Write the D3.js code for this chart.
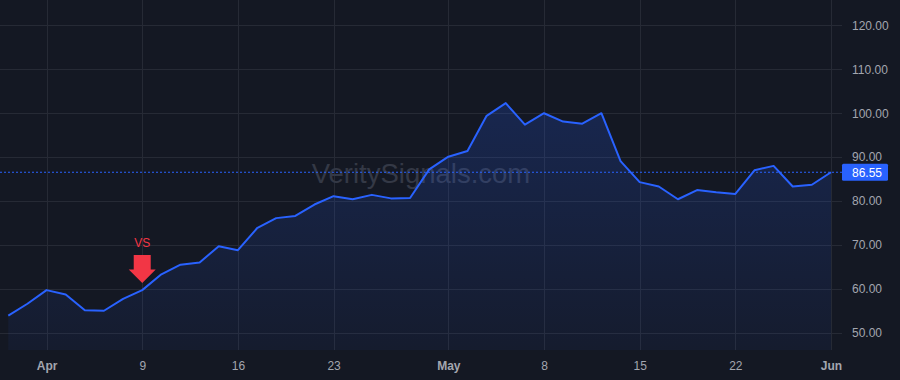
<!DOCTYPE html>
<html><head><meta charset="utf-8">
<script src="https://cdn.jsdelivr.net/npm/d3@7/dist/d3.min.js"></script>
<style>
html,body{margin:0;padding:0;background:#141823;}
svg{display:block;font-family:"Liberation Sans",Arial,sans-serif;}
</style></head>
<body><svg id="c" width="900" height="380"></svg>
<script>
// ---- data ----
const values = [53.9,56.6,59.7,58.7,55.1,55.0,57.7,59.7,63.3,65.5,66.0,69.7,68.8,73.8,76.1,76.6,79.2,81.1,80.4,81.4,80.6,80.7,87.2,90.1,91.4,99.4,102.3,97.4,100.0,98.1,97.6,100.0,89.1,84.3,83.3,80.4,82.5,82.0,81.6,87.0,88.0,83.3,83.7,86.55];
const xTickIndex = [2,7,12,17,23,28,33,38,43];
const xTickLabels = ["Apr","9","16","23","May","8","15","22","Jun"];
const monthLabels = ["Apr","May","Jun"];
const yTicks = [50,60,70,80,90,100,110,120];
const lastPrice = 86.55;
const markerIndex = 7;
const markerText = "VS";
const watermark = "VeritySignals.com";

// ---- layout ----
const W = 900, H = 380, plotR = 842, plotB = 350;
const svg = d3.select("#c");
const x = d3.scaleLinear().domain([0, values.length - 1]).range([8.3, 831]);
const y = d3.scaleLinear().domain([46.06, 125.79]).range([plotB, 0]);

svg.append("rect").attr("width", W).attr("height", H).attr("fill", "#141823");

// grid
const grid = svg.append("g");
grid.selectAll(".hg").data(yTicks).join("line")
  .attr("x1", 0).attr("x2", plotR).attr("y1", d => Math.round(y(d)) + 0.5).attr("y2", d => Math.round(y(d)) + 0.5)
  .attr("stroke", "#262a35").attr("stroke-width", 1);
grid.selectAll(".vg").data(xTickIndex).join("line")
  .attr("x1", d => Math.round(x(d)) + 0.5).attr("x2", d => Math.round(x(d)) + 0.5).attr("y1", 0).attr("y2", plotB)
  .attr("stroke", "#262a35").attr("stroke-width", 1);

// watermark
svg.append("text").attr("x", 421).attr("y", 183).attr("text-anchor", "middle")
  .attr("font-size", 27.5).attr("fill", "#343946").text(watermark);

// area gradient
const defs = svg.append("defs");
const grad = defs.append("linearGradient").attr("id", "ag")
  .attr("gradientUnits", "userSpaceOnUse").attr("x1", 0).attr("x2", 0).attr("y1", y(102.3)).attr("y2", plotB);
grad.append("stop").attr("offset", 0).attr("stop-color", "#2962ff").attr("stop-opacity", 0.2);
grad.append("stop").attr("offset", 1).attr("stop-color", "#2962ff").attr("stop-opacity", 0.05);

const area = d3.area().x((d, i) => x(i)).y0(plotB).y1(d => y(d));
svg.append("path").datum(values).attr("d", area).attr("fill", "url(#ag)");

// last price dotted line
svg.append("line").attr("x1", 0).attr("x2", plotR).attr("y1", y(lastPrice)).attr("y2", y(lastPrice))
  .attr("stroke", "#2962ff").attr("stroke-width", 1).attr("stroke-dasharray", "2,2");

const line = d3.line().x((d, i) => x(i)).y(d => y(d));
svg.append("path").datum(values).attr("d", line).attr("fill", "none")
  .attr("stroke", "#2962ff").attr("stroke-width", 2).attr("stroke-linejoin", "round");

// y axis
const yAxis = svg.append("g").attr("transform", `translate(${plotR},0)`)
  .call(d3.axisRight(y).tickValues(yTicks).tickFormat(d3.format(".2f")).tickSize(0).tickPadding(10));
yAxis.select(".domain").remove();
yAxis.selectAll("text").attr("fill", "#a3a6af").attr("font-size", 12)
  .attr("font-family", "'Liberation Sans',Arial,sans-serif");

// price label
const py = y(lastPrice);
svg.append("rect").attr("x", plotR).attr("y", py - 8.5).attr("width", 46).attr("height", 17).attr("rx", 1.5).attr("fill", "#2962ff");
svg.append("text").attr("x", plotR + 10).attr("y", py + 4.3).attr("font-size", 12).attr("fill", "#ffffff")
  .text(d3.format(".2f")(lastPrice));

// x axis
const xAxis = svg.append("g").attr("transform", `translate(0,${plotB})`)
  .call(d3.axisBottom(x).tickValues(xTickIndex).tickFormat((d, i) => xTickLabels[i]).tickSize(0).tickPadding(11));
xAxis.select(".domain").remove();
xAxis.selectAll("text").attr("fill", "#a3a6af").attr("font-size", 12)
  .attr("font-family", "'Liberation Sans',Arial,sans-serif")
  .attr("font-weight", (d, i) => monthLabels.includes(xTickLabels[i]) ? "bold" : "normal");

// VS marker
const mx = x(markerIndex), my = y(values[markerIndex]);
const tip = my - 7;
const arrow = d3.path();
arrow.moveTo(mx - 8.5, tip - 28); arrow.lineTo(mx + 8.5, tip - 28); arrow.lineTo(mx + 8.5, tip - 13.5);
arrow.lineTo(mx + 13.5, tip - 13.5); arrow.lineTo(mx, tip); arrow.lineTo(mx - 13.5, tip - 13.5);
arrow.lineTo(mx - 8.5, tip - 13.5); arrow.closePath();
svg.append("path").attr("d", arrow.toString()).attr("fill", "#f23645");
svg.append("text").attr("x", mx).attr("y", tip - 36).attr("text-anchor", "middle")
  .attr("font-size", 12).attr("fill", "#f23645").text(markerText);
</script></body></html>
